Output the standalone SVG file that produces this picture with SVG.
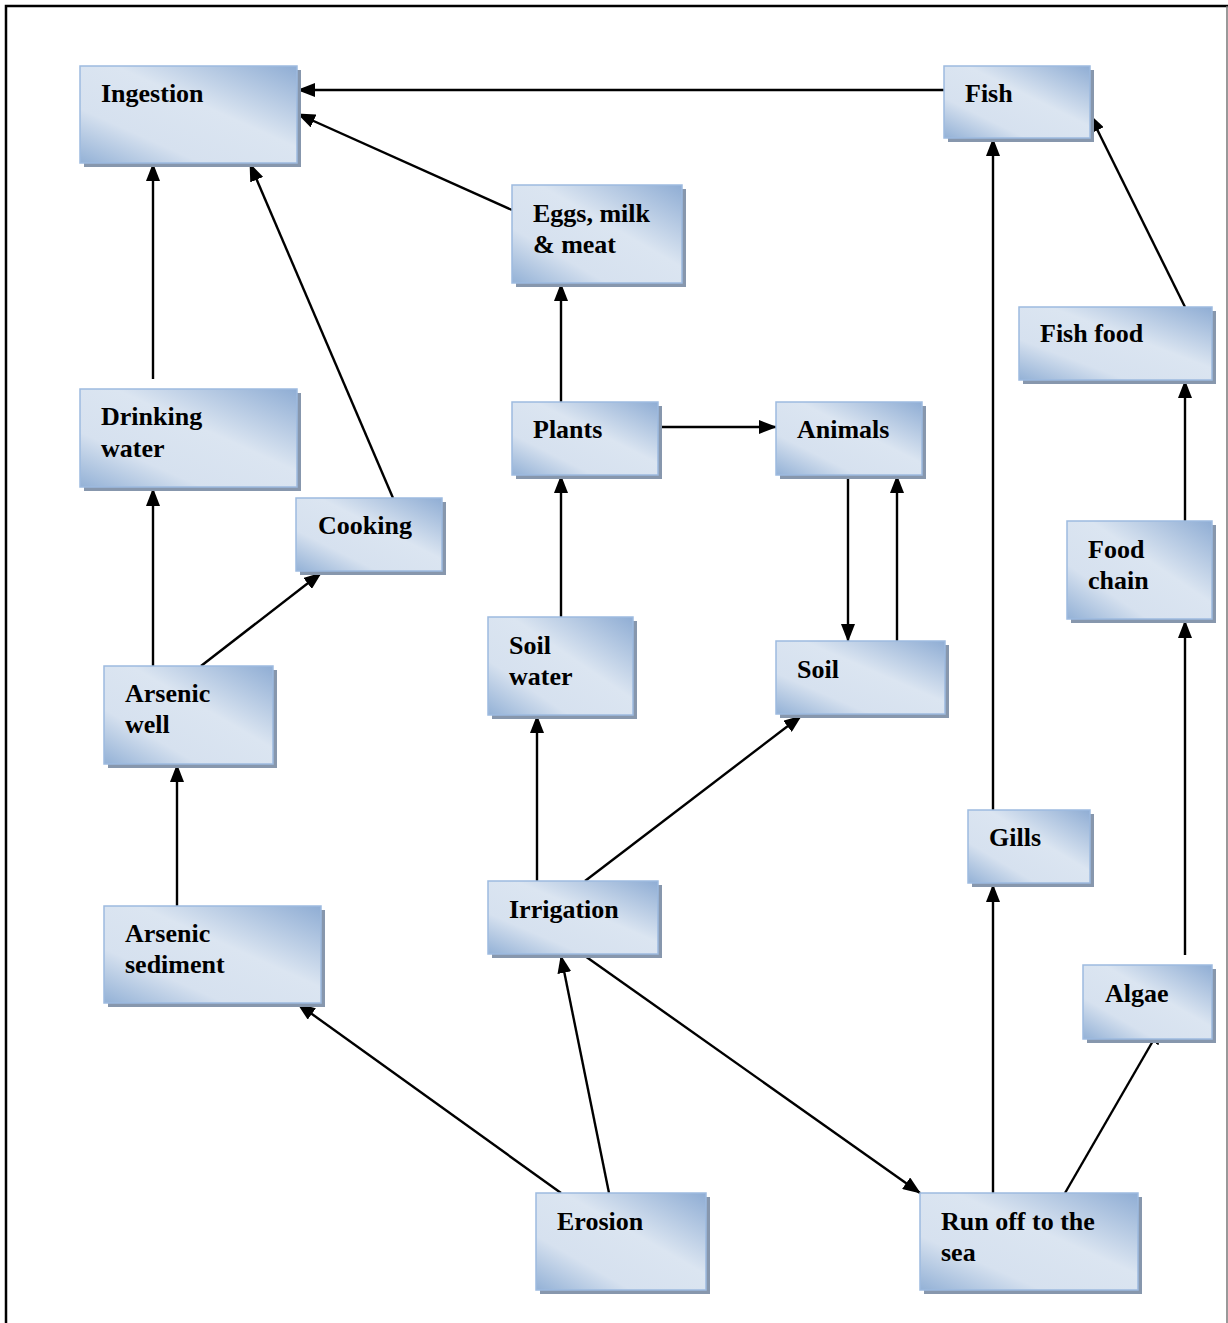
<svg xmlns="http://www.w3.org/2000/svg" width="1228" height="1323" viewBox="0 0 1228 1323">
<defs>
<linearGradient id="g" x1="1" y1="0" x2="0" y2="1">
<stop offset="0" stop-color="#8fadd4"/>
<stop offset="0.42" stop-color="#dbe5f1"/>
<stop offset="0.72" stop-color="#d6e1ef"/>
<stop offset="1" stop-color="#93b1d6"/>
</linearGradient>
<marker id="a" markerUnits="userSpaceOnUse" markerWidth="18" markerHeight="14" refX="17" refY="7" orient="auto">
<path d="M0,0 L18,7 L0,14 z" fill="#000"/>
</marker>
<style>
.sh{fill:#8797ad}
.bx{fill:url(#g);stroke:#9dbadf;stroke-width:1.5}
.t{font-family:'Liberation Serif','Times New Roman','DejaVu Serif',serif;font-weight:700;font-size:26px;fill:#000}
#edges line{stroke:#000;stroke-width:2.4;marker-end:url(#a)}
</style>
</defs>
<rect x="0" y="0" width="1228" height="1323" fill="#fff"/>
<path d="M6,1323 V6 H1228" fill="none" stroke="#000" stroke-width="2.5"/>
<line x1="1227" y1="6" x2="1227" y2="1323" stroke="#777" stroke-width="1.5"/>

<g id="edges">
<line x1="944" y1="90" x2="298" y2="90"/>
<line x1="512" y1="210" x2="298" y2="114"/>
<line x1="153" y1="379" x2="153" y2="164"/>
<line x1="393" y1="498" x2="250" y2="164"/>
<line x1="561" y1="402" x2="561" y2="284"/>
<line x1="658" y1="427" x2="776" y2="427"/>
<line x1="848" y1="475" x2="848" y2="641"/>
<line x1="897" y1="641" x2="897" y2="476"/>
<line x1="561" y1="617" x2="561" y2="476"/>
<line x1="153" y1="666" x2="153" y2="489"/>
<line x1="201" y1="666" x2="321" y2="573"/>
<line x1="177" y1="906" x2="177" y2="765"/>
<line x1="537" y1="881" x2="537" y2="716"/>
<line x1="585" y1="881" x2="801" y2="716"/>
<line x1="609" y1="1193" x2="561" y2="956"/>
<line x1="561" y1="1193" x2="298" y2="1004"/>
<line x1="585" y1="956" x2="920" y2="1193"/>
<line x1="993" y1="1193" x2="993" y2="885"/>
<line x1="993" y1="810" x2="993" y2="139"/>
<line x1="1065" y1="1193" x2="1161" y2="1027"/>
<line x1="1185" y1="955" x2="1185" y2="621"/>
<line x1="1185" y1="521" x2="1185" y2="381"/>
<line x1="1185" y1="307" x2="1090" y2="115"/>
</g>

<g id="n-ingestion"><rect class="sh" x="84" y="70" width="217" height="97"/><rect class="bx" x="80" y="66" width="217" height="97"/><text class="t" x="101" y="102" font-family="Liberation Serif, serif">Ingestion</text></g>
<g id="n-fish"><rect class="sh" x="948" y="70" width="146" height="72"/><rect class="bx" x="944" y="66" width="146" height="72"/><text class="t" x="965" y="102">Fish</text></g>
<g id="n-eggs"><rect class="sh" x="516" y="189" width="170" height="98"/><rect class="bx" x="512" y="185" width="170" height="98"/><text class="t" x="533" y="222">Eggs, milk</text><text class="t" x="533" y="253">&amp; meat</text></g>
<g id="n-fishfood"><rect class="sh" x="1023" y="311" width="193" height="73"/><rect class="bx" x="1019" y="307" width="193" height="73"/><text class="t" x="1040" y="342">Fish food</text></g>
<g id="n-drinking"><rect class="sh" x="84" y="393" width="217" height="98"/><rect class="bx" x="80" y="389" width="217" height="98"/><text class="t" x="101" y="425">Drinking</text><text class="t" x="101" y="457">water</text></g>
<g id="n-plants"><rect class="sh" x="516" y="406" width="146" height="73"/><rect class="bx" x="512" y="402" width="146" height="73"/><text class="t" x="533" y="438">Plants</text></g>
<g id="n-animals"><rect class="sh" x="780" y="406" width="146" height="73"/><rect class="bx" x="776" y="402" width="146" height="73"/><text class="t" x="797" y="438">Animals</text></g>
<g id="n-cooking"><rect class="sh" x="300" y="502" width="146" height="73"/><rect class="bx" x="296" y="498" width="146" height="73"/><text class="t" x="318" y="534">Cooking</text></g>
<g id="n-foodchain"><rect class="sh" x="1071" y="525" width="145" height="98"/><rect class="bx" x="1067" y="521" width="145" height="98"/><text class="t" x="1088" y="558">Food</text><text class="t" x="1088" y="589">chain</text></g>
<g id="n-soilwater"><rect class="sh" x="492" y="621" width="145" height="98"/><rect class="bx" x="488" y="617" width="145" height="98"/><text class="t" x="509" y="654">Soil</text><text class="t" x="509" y="685">water</text></g>
<g id="n-soil"><rect class="sh" x="780" y="645" width="169" height="73"/><rect class="bx" x="776" y="641" width="169" height="73"/><text class="t" x="797" y="678">Soil</text></g>
<g id="n-arsenicwell"><rect class="sh" x="108" y="670" width="169" height="98"/><rect class="bx" x="104" y="666" width="169" height="98"/><text class="t" x="125" y="702">Arsenic</text><text class="t" x="125" y="733">well</text></g>
<g id="n-gills"><rect class="sh" x="972" y="814" width="122" height="73"/><rect class="bx" x="968" y="810" width="122" height="73"/><text class="t" x="989" y="846">Gills</text></g>
<g id="n-irrigation"><rect class="sh" x="492" y="885" width="170" height="73"/><rect class="bx" x="488" y="881" width="170" height="73"/><text class="t" x="509" y="918">Irrigation</text></g>
<g id="n-sediment"><rect class="sh" x="108" y="910" width="217" height="97"/><rect class="bx" x="104" y="906" width="217" height="97"/><text class="t" x="125" y="942">Arsenic</text><text class="t" x="125" y="973">sediment</text></g>
<g id="n-algae"><rect class="sh" x="1087" y="969" width="129" height="74"/><rect class="bx" x="1083" y="965" width="129" height="74"/><text class="t" x="1105" y="1002">Algae</text></g>
<g id="n-erosion"><rect class="sh" x="540" y="1197" width="170" height="97"/><rect class="bx" x="536" y="1193" width="170" height="97"/><text class="t" x="557" y="1230">Erosion</text></g>
<g id="n-runoff"><rect class="sh" x="924" y="1197" width="218" height="97"/><rect class="bx" x="920" y="1193" width="218" height="97"/><text class="t" x="941" y="1230">Run off to the</text><text class="t" x="941" y="1261">sea</text></g>
</svg>
